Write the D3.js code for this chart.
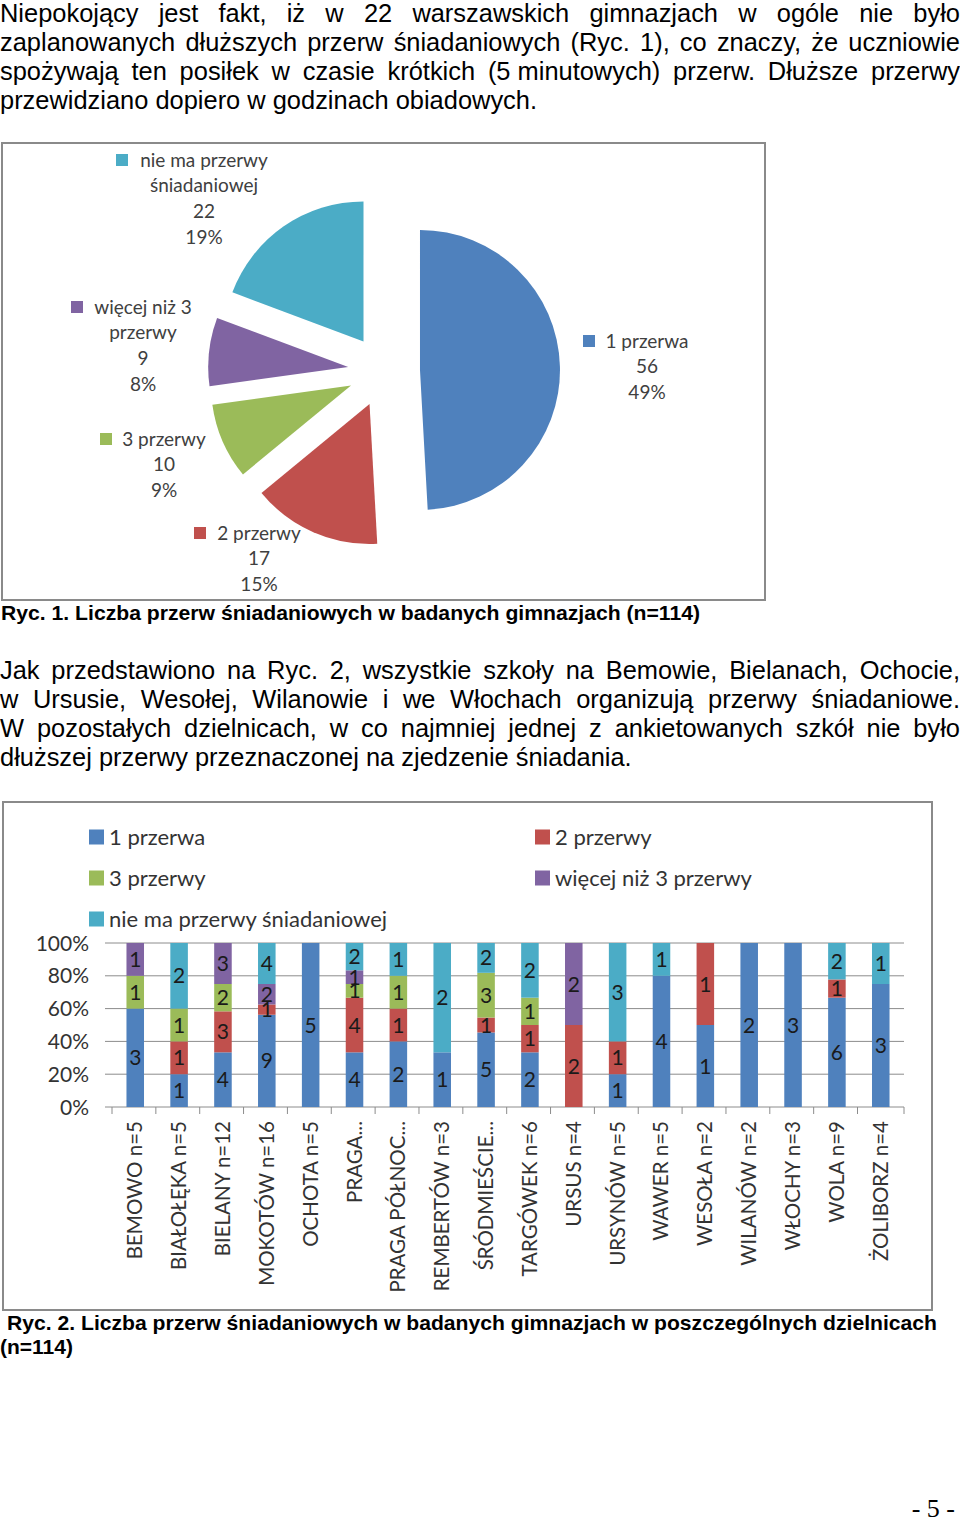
<!DOCTYPE html>
<html><head><meta charset="utf-8">
<script src="https://cdn.jsdelivr.net/npm/d3@7"></script>
<style>html,body{margin:0;padding:0;background:#fff;} svg{display:block;}</style>
</head><body>
<svg id="page" width="960" height="1521"></svg>
<script>
// ---------- DATA ----------
const pieCategories = ["1 przerwa","2 przerwy","3 przerwy","więcej niż 3 przerwy","nie ma przerwy śniadaniowej"];
const pieValues = [56,17,10,9,22];
const piePercents = ["49%","15%","9%","8%","19%"];
const pieLabelLines = [["1 przerwa"],["2 przerwy"],["3 przerwy"],["więcej niż 3","przerwy"],["nie ma przerwy","śniadaniowej"]];
const seriesColors = ["#4F81BD","#C0504D","#9BBB59","#8064A2","#4BACC6"];

const districts = ["BEMOWO n=5","BIAŁOŁĘKA n=5","BIELANY n=12","MOKOTÓW n=16","OCHOTA n=5","PRAGA...","PRAGA PÓŁNOC...","REMBERTÓW n=3","ŚRÓDMIEŚCIE...","TARGÓWEK n=6","URSUS n=4","URSYNÓW n=5","WAWER n=5","WESOŁA n=2","WILANÓW n=2","WŁOCHY n=3","WOLA n=9","ŻOLIBORZ n=4"];
const s1przerwa  = [3,1,4,9,5,4,2,1,5,2,0,1,4,1,2,3,6,3];
const s2przerwy  = [0,1,3,1,0,4,1,0,1,1,2,1,0,1,0,0,1,0];
const s3przerwy  = [1,1,2,0,0,1,1,0,3,1,0,0,0,0,0,0,0,0];
const sWiecej    = [1,0,3,2,0,1,0,0,0,0,2,0,0,0,0,0,0,0];
const sNieMa     = [0,2,0,4,0,2,1,2,2,2,0,3,1,0,0,0,2,1];
const yTicks = [0,0.2,0.4,0.6,0.8,1];
const yTickLabels = ["0%","20%","40%","60%","80%","100%"];

const para1 = ["Niepokojący jest fakt, iż w 22 warszawskich gimnazjach w ogóle nie było",
  "zaplanowanych dłuższych przerw śniadaniowych (Ryc. 1), co znaczy, że uczniowie",
  "spożywają ten posiłek w czasie krótkich (5\u00a0minutowych) przerw. Dłuższe przerwy",
  "przewidziano dopiero w godzinach obiadowych."];
const para2 = ["Jak przedstawiono na Ryc. 2, wszystkie szkoły na Bemowie, Bielanach, Ochocie,",
  "w Ursusie, Wesołej, Wilanowie i we Włochach organizują przerwy śniadaniowe.",
  "W pozostałych dzielnicach, w co najmniej jednej z ankietowanych szkół nie było",
  "dłuższej przerwy przeznaczonej na zjedzenie śniadania."];
const caption1 = "Ryc. 1. Liczba przerw śniadaniowych w badanych gimnazjach (n=114)";
const caption2 = ["Ryc. 2. Liczba przerw śniadaniowych w badanych gimnazjach w poszczególnych dzielnicach","(n=114)"];

// ---------- HELPERS ----------
const svg = d3.select("#page");
svg.append("rect").attr("width",960).attr("height",1521).attr("fill","#fff");
const BODY = "'Liberation Sans', Arial, sans-serif";
const CHART = "Lato, 'Open Sans', sans-serif";

function measure(str, font, size, weight){
  const t = svg.append("text").attr("font-family",font).attr("font-size",size)
    .attr("font-weight",weight||"normal").style("white-space","pre").text(str);
  const w = t.node().getComputedTextLength(); t.remove(); return w;
}
function drawLine(str, x0, y, width, justify, font, size, weight, k){
  const words = str.split(" ");
  const ws = words.map(w => measure(w,font,size,weight)*k);
  const total = d3.sum(ws);
  const gap = (justify && words.length>1) ? (width-total)/(words.length-1) : measure("a a",font,size,weight)*k - measure("aa",font,size,weight)*k;
  let x = x0;
  words.forEach((w,i)=>{
    svg.append("text").attr("x",x).attr("y",y).attr("font-family",font).attr("font-size",size)
      .attr("font-weight",weight||"normal").attr("fill","#000")
      .attr("textLength",ws[i]).attr("lengthAdjust","spacingAndGlyphs").style("white-space","pre").text(w);
    x += ws[i]+gap;
  });
}
const BS = 25.5;
const kBody = 537 / measure(para1[3], BODY, BS);
function paragraph(lines, y0){
  lines.forEach((l,i)=> drawLine(l, 0, y0+i*29, 960, i<lines.length-1, BODY, BS, "normal", kBody));
}
paragraph(para1, 21.5);
paragraph(para2, 678.5);

// captions
function fitText(str, x, y, width, size, weight, font){
  svg.append("text").attr("x",x).attr("y",y).attr("font-family",font||BODY).attr("font-size",size)
    .attr("font-weight",weight).attr("textLength",width).attr("lengthAdjust","spacingAndGlyphs").text(str);
}
fitText(caption1, 1, 620, 699, 21, "bold");
fitText(caption2[0], 7, 1330, 930, 21, "bold");
fitText(caption2[1], 0, 1354, 73, 21, "bold");
svg.append("text").attr("x",955).attr("y",1517).attr("text-anchor","end")
  .attr("font-family","'Liberation Serif', 'Times New Roman', serif").attr("font-size",26).text("- 5 -");

// ---------- PIE CHART ----------
svg.append("rect").attr("x",2).attr("y",143).attr("width",763).attr("height",457)
  .attr("fill","none").attr("stroke","#8a8a8a").attr("stroke-width",2);
const pc = [384,371], pr = 140, explode = 36;
const pie = d3.pie().sort(null).value(d=>d)(pieValues);
const arc = d3.arc().innerRadius(0).outerRadius(pr);
const pg = svg.append("g").attr("transform",`translate(${pc[0]},${pc[1]})`);
pg.selectAll("path").data(pie).join("path")
  .attr("transform", d=>{const m=(d.startAngle+d.endAngle)/2; return `translate(${explode*Math.sin(m)},${-explode*Math.cos(m)})`;})
  .attr("d",arc).attr("fill",(d,i)=>seriesColors[i]);
// label anchors (centre x of text block, y of first line centre)
const pieLabelPos = [[647,341],[259,533],[164,439],[143,307],[204,160]];
const pieLabelMarkerX = [583,194,100,71,116];
pie.forEach((d,i)=>{
  const [cx,cy] = pieLabelPos[i];
  const lines = pieLabelLines[i].concat([String(pieValues[i]), piePercents[i]]);
  svg.append("rect").attr("x",pieLabelMarkerX[i]).attr("y",cy-6).attr("width",12).attr("height",12).attr("fill",seriesColors[i]);
  lines.forEach((l,j)=>{
    svg.append("text").attr("x",cx).attr("y",cy+j*25.7).attr("dy","0.35em").attr("text-anchor","middle")
      .attr("font-family",CHART).attr("font-size",19).attr("fill","#404040").text(l);
  });
});

// ---------- STACKED BAR CHART ----------
svg.append("rect").attr("x",3).attr("y",802).attr("width",929).attr("height",508)
  .attr("fill","none").attr("stroke","#8a8a8a").attr("stroke-width",2);
const seriesArr = [s1przerwa,s2przerwy,s3przerwy,sWiecej,sNieMa];
const rows = districts.map((d,i)=>{const o={name:d}; pieCategories.forEach((c,j)=>o[c]=seriesArr[j][i]); return o;});
const stack = d3.stack().keys(pieCategories).offset(d3.stackOffsetExpand)(rows);
const x = d3.scaleBand().domain(districts).range([112,904]).paddingInner(0.6).paddingOuter(0.33);
const y = d3.scaleLinear().domain([0,1]).range([1107,943]);
const bg = svg.append("g");
// gridlines
bg.selectAll("line.grid").data(yTicks).join("line")
  .attr("x1",105).attr("x2",904).attr("y1",d=>y(d)).attr("y2",d=>y(d))
  .attr("stroke","#8c8c8c").attr("stroke-width",1);
// x ticks at band boundaries
const bounds = districts.map((d,i)=>x.range()[0]+i*x.step()).concat([x.range()[1]]);
bg.selectAll("line.xt").data(bounds).join("line")
  .attr("x1",d=>d).attr("x2",d=>d).attr("y1",1107).attr("y2",1114).attr("stroke","#8c8c8c");
// y labels
bg.selectAll("text.yl").data(yTicks).join("text")
  .attr("x",89).attr("y",d=>y(d)).attr("dy","0.36em").attr("text-anchor","end")
  .attr("font-family",CHART).attr("font-size",21).attr("fill","#333").text((d,i)=>yTickLabels[i]);
// bars
stack.forEach((layer,si)=>{
  const g = bg.append("g").attr("fill",seriesColors[si]);
  g.selectAll("rect").data(layer).join("rect")
    .attr("x",d=>x(d.data.name)).attr("width",x.bandwidth())
    .attr("y",d=>y(d[1])).attr("height",d=>y(d[0])-y(d[1]));
});
// data labels
stack.forEach((layer,si)=>{
  bg.append("g").selectAll("text").data(layer.filter(d=>d.data[layer.key]>0)).join("text")
    .attr("x",d=>x(d.data.name)+x.bandwidth()/2).attr("y",d=>y((d[0]+d[1])/2)).attr("dy","0.36em")
    .attr("text-anchor","middle").attr("font-family",CHART).attr("font-size",21).attr("fill","#1a1a1a")
    .text(d=>d.data[layer.key]);
});
// x labels
bg.selectAll("text.xl").data(districts).join("text")
  .attr("transform",d=>`translate(${x(d)+x.bandwidth()/2+7},1121) rotate(-90)`)
  .attr("text-anchor","end").attr("font-family",CHART).attr("font-size",20.5).attr("fill","#333").text(d=>d);
// legend
const legX = [89,535], legY = [837,878,919];
pieCategories.forEach((c,i)=>{
  const lx = legX[i%2], ly = legY[Math.floor(i/2)];
  svg.append("rect").attr("x",lx).attr("y",ly-7.5).attr("width",15).attr("height",15).attr("fill",seriesColors[i]);
  svg.append("text").attr("x",lx+20).attr("y",ly).attr("dy","0.35em").attr("font-family",CHART)
    .attr("font-size",22).attr("fill","#333").text(c);
});
</script>
</body></html>
